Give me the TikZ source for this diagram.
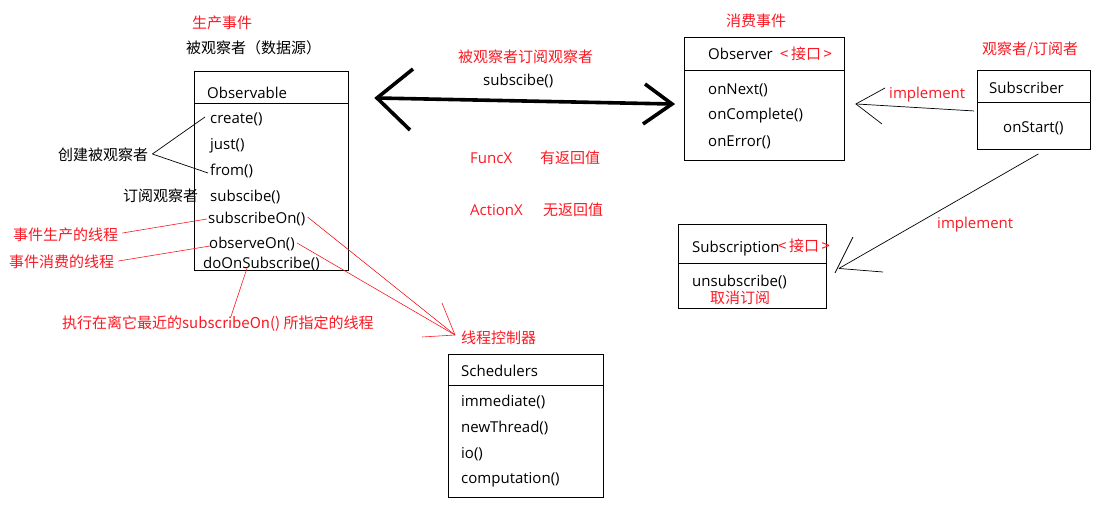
\documentclass[tikz,border=0pt]{standalone}
\usepackage{fontspec}
\setmainfont{Open Sans}
\newfontfamily\cjk{Noto Sans CJK SC}
\definecolor{myred}{RGB}{250,25,35}
\newcommand{\lf}{\fontsize{15}{17}\selectfont}
\newcommand{\cf}{\cjk\fontsize{15}{17}\selectfont}
\begin{document}
\begin{tikzpicture}[x=1pt,y=-1pt,
  txt/.style={inner sep=0pt, anchor=west, text height=13pt, text depth=1pt, font=\lf},
  ctxt/.style={inner sep=0pt, anchor=west, text height=13pt, text depth=1pt, font=\cf},
  rtxt/.style={ctxt, text=myred},
  rltxt/.style={txt, text=myred},
  box/.style={draw, line width=0.9pt, inner sep=0pt, anchor=north west},
  thin/.style={line width=0.7pt},
  redline/.style={draw=myred, line width=0.6pt},
  thick/.style={line width=3.6pt}]
\useasboundingbox (0,0) rectangle (1104,509);

% ---------- Observable ----------
\node[box, minimum width=154pt, minimum height=199pt] (obs) at (194,71) {};
\draw[line width=0.9pt] ([yshift=-32pt]obs.north west) -- ([yshift=-32pt]obs.north east);
\node[txt] (obsT) at (207,92) {Observable};
\node[txt] (mcreate) at (210,117) {create()};
\node[txt] (mjust) at (210,143) {just()};
\node[txt] (mfrom) at (210,169) {from()};
\node[txt] (msub) at (210,195) {subscibe()};
\node[txt] (msubon) at (208,217) {subscribeOn()};
\node[txt] (mobson) at (209,242) {observeOn()};
\node[txt] (mdoon) at (203,262) {doOnSubscribe()};

\node[rtxt] (prod) at (192,22) {生产事件};
\node[ctxt] (obsname) at (186,47) {被观察者（数据源）};
\node[ctxt] (create) at (58,154) {创建被观察者};
\node[ctxt] (subobs) at (123,195) {订阅观察者};
\node[rtxt] (ev1) at (13,234) {事件生产的线程};
\node[rtxt] (ev2) at (9,261) {事件消费的线程};
\node[rtxt] (ev3) at (62,322) {执行在离它最近的{\lf subscribeOn() }所指定的线程};

\draw[thin] ([xshift=4pt]create.east) -- ([xshift=-5pt]mcreate.west);
\draw[thin] ([xshift=4pt]create.east) -- ([xshift=-2pt,yshift=-4pt]mfrom.west);

\draw[redline] ([xshift=4pt,yshift=1pt]ev1.east) -- ([xshift=-1pt,yshift=-2pt]msubon.west);
\draw[redline] ([xshift=4pt]ev2.east) -- ([xshift=1pt,yshift=-4pt]mobson.west);
\draw[redline] ([xshift=13pt,yshift=-2pt]ev3.north) -- ([xshift=44pt,yshift=1pt]mdoon.south west);

% ---------- Schedulers ----------
\node[box, minimum width=155pt, minimum height=143pt] (sch) at (448,354) {};
\draw[line width=0.9pt] ([yshift=-31pt]sch.north west) -- ([yshift=-31pt]sch.north east);
\node[txt] (schT) at (461,370) {Schedulers};
\node[txt] (simm) at (461,400) {immediate()};
\node[txt] (snew) at (461,426) {newThread()};
\node[txt] (sio) at (461,452) {io()};
\node[txt] (scomp) at (461,477) {computation()};

\node[rtxt] (thr) at (461,337) {线程控制器};
\coordinate (tc) at ([xshift=-6pt,yshift=2pt]thr.west);
\coordinate (tca) at (442,303);
\coordinate (tcb) at (422,337);
\draw[redline] ([xshift=2pt]msubon.east) -- (tc);
\draw[redline] ([xshift=2pt,yshift=-1pt]mobson.east) -- (tc);
\draw[redline] (tca) -- (tc);
\draw[redline] (tcb) -- (tc);

% ---------- middle ----------
\node[rtxt] (subtitle) at (458,56) {被观察者订阅观察者};
\node[txt] (subcall) at (483,79) {subscibe()};
\coordinate (la) at (377,98);
\coordinate (ra) at (672,104);
\coordinate (la1) at (413,69);
\coordinate (la2) at (410,130);
\coordinate (ra1) at (645,84);
\coordinate (ra2) at (643,124);
\draw[thick] (la) -- (ra);
\draw[thick, line join=miter] (la1) -- (la) -- (la2);
\draw[thick, line join=miter] (ra1) -- (ra) -- (ra2);

\node[rltxt] (funcx) at (470,157) {FuncX};
\node[rtxt] (funcd) at (540,157) {有返回值};
\node[rltxt] (actx) at (470,209) {ActionX};
\node[rtxt] (actd) at (543,209) {无返回值};

% ---------- Observer ----------
\node[rtxt] (cons) at (726,20) {消费事件};
\node[box, minimum width=160pt, minimum height=123pt] (obv) at (684,37) {};
\draw[line width=0.9pt] ([yshift=-33pt]obv.north west) -- ([yshift=-33pt]obv.north east);
\node[txt] (obvT) at (708,53) {Observer};
\node[rtxt] (obvI) at (780,53) {<\,接口\,>};
\node[txt] (onext) at (708,88) {onNext()};
\node[txt] (ocomp) at (708,113) {onComplete()};
\node[txt] (oerr) at (708,140) {onError()};

% ---------- Subscriber ----------
\node[rtxt] (subsname) at (982,48) {观察者/订阅者};
\node[box, minimum width=113pt, minimum height=79pt] (subr) at (977,70) {};
\draw[line width=0.9pt] ([yshift=-32pt]subr.north west) -- ([yshift=-32pt]subr.north east);
\node[txt] (subrT) at (989,87) {Subscriber};
\node[txt] (ostart) at (1003,126) {onStart()};

\coordinate (i1) at ([xshift=11pt,yshift=-5pt]obv.east);
\coordinate (i1a) at (885,88);
\coordinate (i1b) at (882,124);
\draw[thin] ([xshift=-3pt,yshift=-1pt]subr.west) -- (i1);
\draw[thin] (i1a) -- (i1) -- (i1b);
\node[rltxt] (impl1) at (889,92) {implement};

% ---------- Subscription ----------
\node[box, minimum width=148pt, minimum height=84pt] (subn) at (678,224) {};
\draw[line width=0.9pt] ([yshift=-39pt]subn.north west) -- ([yshift=-39pt]subn.north east);
\node[txt] (subnT) at (692,246) {Subscription};
\node[rtxt] (subnI) at (778,245) {<\,接口\,>};
\node[txt] (unsub) at (692,280) {unsubscribe()};
\node[rtxt] (cancel) at (710,297) {取消订阅};

\coordinate (i2) at ([xshift=12pt,yshift=-2pt]subn.east);
\coordinate (i2a) at (853,237);
\coordinate (i2b) at (835,273);
\coordinate (i2c) at (883,272);
\draw[thin] ([xshift=4.5pt,yshift=-4pt]subr.south) -- (i2);
\draw[thin] (i2a) -- (i2b);
\draw[thin] (i2c) -- (i2);
\node[rltxt] (impl2) at (937,222) {implement};
\end{tikzpicture}
\end{document}
